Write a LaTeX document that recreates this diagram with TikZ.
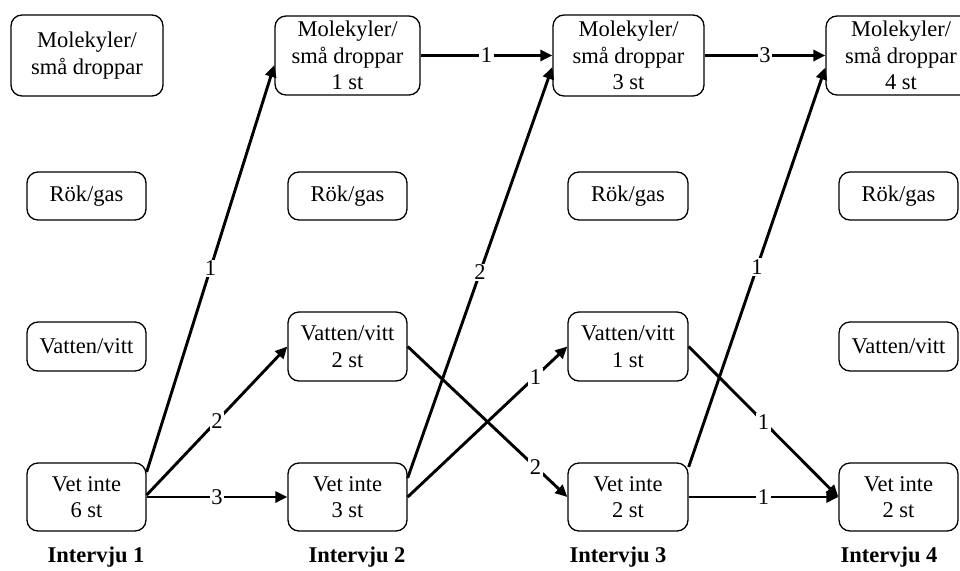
\documentclass[tikz,border=0pt]{standalone}
\usepackage{fontspec}
\setmainfont{Liberation Serif}
\usetikzlibrary{arrows.meta}

\begin{document}
\begin{tikzpicture}[x=1pt,y=-1pt,
  txt/.style={font=\fontsize{22.5}{26.5}\selectfont},
  state/.style={txt, draw, line width=1.3pt, rounded corners=11pt, align=center,
    inner sep=0pt},
  flow/.style={line width=2.9pt, -{Triangle[length=12pt,width=11pt]}},
  cnt/.style={txt, fill=white, inner sep=1.5pt},
  head/.style={font=\fontsize{22.5}{26.5}\selectfont\bfseries}
]
\useasboundingbox (0,0) rectangle (960,570);

% Column 1
\node[state, minimum width=152pt, minimum height=81pt] (mol1) at (87,55.5) {Molekyler/\\små droppar};
\node[state, minimum width=119pt, minimum height=48pt] (rok1) at (86.5,196) {Rök/gas};
\node[state, minimum width=119pt, minimum height=49pt] (vat1) at (86.5,346.5) {Vatten/vitt};
\node[state, minimum width=119pt, minimum height=68pt] (vet1) at (86.5,497) {Vet inte\\6 st};

% Column 2
\node[state, minimum width=145pt, minimum height=79pt] (mol2) at (347.5,55.5) {Molekyler/\\små droppar\\1 st};
\node[state, minimum width=119pt, minimum height=48pt] (rok2) at (347.5,196) {Rök/gas};
\node[state, minimum width=119pt, minimum height=69pt] (vat2) at (347.5,346.5) {Vatten/vitt\\2 st};
\node[state, minimum width=119pt, minimum height=68pt] (vet2) at (347.5,497) {Vet inte\\3 st};

% Column 3
\node[state, minimum width=151pt, minimum height=81pt] (mol3) at (628.5,55.5) {Molekyler/\\små droppar\\3 st};
\node[state, minimum width=120pt, minimum height=48pt] (rok3) at (628,196) {Rök/gas};
\node[state, minimum width=120pt, minimum height=69pt] (vat3) at (628,346.5) {Vatten/vitt\\1 st};
\node[state, minimum width=120pt, minimum height=68pt] (vet3) at (628,497) {Vet inte\\2 st};

% Column 4
\node[state, minimum width=150pt, minimum height=79pt] (mol4) at (901,55.5) {Molekyler/\\små droppar\\4 st};
\node[state, minimum width=119pt, minimum height=48pt] (rok4) at (898.5,196) {Rök/gas};
\node[state, minimum width=119pt, minimum height=49pt] (vat4) at (898.5,346.5) {Vatten/vitt};
\node[state, minimum width=119pt, minimum height=68pt] (vet4) at (898.5,497) {Vet inte\\2 st};

% Interview headings
\node[head] (h1) at (96,557) {Intervju 1};
\node[head] (h2) at (357,557) {Intervju 2};
\node[head] (h3) at (618,557) {Intervju 3};
\node[head] (h4) at (889,557) {Intervju 4};

% Transitions between interviews (yshift is in page direction: positive = up)
\draw[flow] ([yshift=25pt]vet1.east) -- ([yshift=-9.5pt]mol2.west) node[cnt, pos=0.5] (c1) {1};
\draw[flow] ([yshift=2pt]vet1.east) -- (vat2.west) node[cnt, pos=0.5] (c2) {2};
\draw[flow] (vet1.east) -- (vet2.west) node[cnt, pos=0.5] (c3) {3};

\draw[flow] (mol2.east) -- (mol3.west) node[cnt, pos=0.5] (c4) {1};
\draw[flow] ([yshift=19pt]vet2.east) -- ([yshift=-11.5pt]mol3.west) node[cnt, pos=0.5] (c5) {2};
\draw[flow] (vet2.east) -- (vat3.west) node[cnt, pos=0.8] (c6) {1};
\draw[flow] (vat2.east) -- (vet3.west) node[cnt, pos=0.8] (c7) {2};

\draw[flow] (mol3.east) -- (mol4.west) node[cnt, pos=0.5] (c8) {3};
\draw[flow] ([yshift=30pt]vet3.east) -- ([yshift=-12pt]mol4.west) node[cnt, pos=0.5] (c9) {1};
\draw[flow] (vat3.east) -- (vet4.west) node[cnt, pos=0.5] (c10) {1};
\draw[flow] (vet3.east) -- (vet4.west) node[cnt, pos=0.5] (c11) {1};
\end{tikzpicture}
\end{document}
